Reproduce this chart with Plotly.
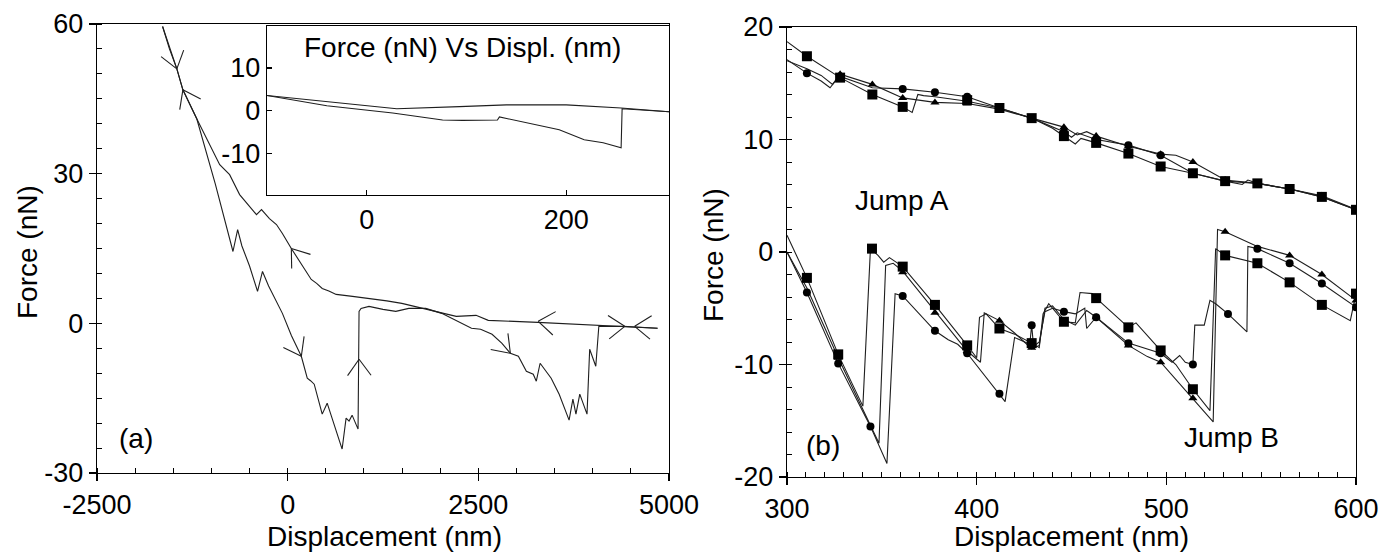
import math
import plotly.graph_objects as go

# ---------------- Panel (a): main force curve ----------------
a_approach_x = [-1640, -1550, -1453, -1374, -1192, -1050, -891, -761, -630, -520, -409, -343, -239, -147, -69, 48,
                244, 309, 380, 453, 540, 636, 850, 1066, 1300, 1497, 1700, 1940, 2100, 2210, 2470, 2630, 3280, 4070, 4850]
a_approach_f = [59.5, 55.0, 51.0, 46.8, 41.0, 36.5, 31.8, 29.8, 25.8, 23.8, 21.8, 22.8, 21.0, 19.8, 18.0, 15.0,
                10.4, 8.8, 8.0, 7.0, 6.5, 5.8, 5.4, 5.0, 4.5, 4.0, 3.3, 2.4, 1.8, 1.4, 1.6, 0.6, 0.2, -0.4, -1.0]

a_retract_x = [-1640, -1453, -1374, -1192, -950, -717, -656, -600, -500, -395, -330, -250, -69, 50, 179, 257, 300, 348,
               453, 518, 714, 766, 805, 845, 923, 936, 962, 1066, 1250, 1418, 1588, 1810, 2020, 2150, 2410, 2530,
               2680, 2810, 2920, 3025, 3130, 3220, 3260, 3310, 3455, 3560, 3690, 3740, 3780, 3830, 3925, 3960,
               4040, 4080, 4400, 4850]
a_retract_f = [59.5, 51.0, 46.8, 41.0, 28.0, 14.4, 18.8, 15.5, 11.5, 6.4, 10.4, 7.5, 2.0, -2.5, -6.6, -11.0, -11.5, -12.2,
               -18.2, -16.0, -25.2, -19.0, -19.6, -18.4, -21.2, 2.4, 3.0, 3.4, 2.8, 2.4, 3.0, 3.0, 2.0, 1.0, -1.0, -1.2,
               -2.2, -4.0, -6.0, -6.6, -9.6, -10.2, -11.6, -8.0, -11.0, -14.2, -19.4, -15.2, -18.2, -14.2, -18.2, -5.2,
               -8.6, -0.6, -0.6, -1.0]

# arrowheads on panel (a): tip x, tip force, pointing direction (screen degrees, 0 = right, 90 = down)
arrow_x = [-1453, -1374, 48, 179, 936, 3285, 2920, 4420, 4550]
arrow_f = [51.0, 46.8, 15.0, -6.6, -7.2, 0.4, -6.0, -0.6, -0.6]
arrow_dir = [74, -117, -127, 62, -91, 187, 47, -3, 184]

# inset
inset_upper_x = [-100, 30, 93, 140, 200, 255, 303]
inset_upper_f = [3.6, 0.5, 1.0, 1.4, 1.4, 0.7, -0.2]
inset_lower_x = [-100, -40, 26, 76, 96, 131, 133, 160, 193, 218, 237, 255, 256, 303]
inset_lower_f = [3.6, 1.2, -0.5, -2.1, -2.2, -2.1, -1.4, -2.8, -4.4, -6.7, -7.4, -8.6, 0.5, -0.2]

# ---------------- Panel (b): three runs, upper and lower branches ----------------
sq_top_x = [300, 310.5, 328, 345, 361, 366, 369, 372, 378, 395, 412, 429, 440, 446, 452, 455, 463, 480, 497, 514, 531, 548, 565, 582, 600]
sq_top_f = [18.7, 17.4, 15.5, 14.0, 12.9, 12.4, 14.0, 13.9, 13.8, 13.4, 12.8, 11.9, 11.0, 10.3, 9.6, 10.1, 9.7, 8.75, 7.6, 7.0, 6.3, 6.1, 5.6, 4.9, 3.75]
ci_top_x = [300, 310.5, 318, 322.7, 326, 328, 345, 361, 378, 395, 412, 429, 446, 450, 453, 463, 480, 497, 514, 531, 540, 543, 548, 565, 582, 600]
ci_top_f = [17.1, 15.9, 15.2, 14.6, 15.3, 15.6, 14.6, 14.5, 14.2, 13.8, 12.8, 11.9, 10.7, 10.2, 10.6, 10.0, 9.5, 8.6, 7.0, 6.3, 6.0, 6.4, 6.1, 5.6, 4.9, 3.75]
tr_top_x = [300, 310.5, 318, 324, 328, 345, 361, 378, 395, 412, 429, 446, 453, 458, 463, 480, 497, 505, 514, 531, 548, 565, 582, 600]
tr_top_f = [17.0, 16.3, 15.7, 14.9, 15.8, 14.9, 13.7, 13.3, 13.2, 12.7, 11.9, 11.1, 10.4, 10.7, 10.3, 9.4, 8.7, 8.6, 8.0, 6.4, 6.1, 5.6, 5.0, 3.8]

sq_bot_x = [300, 310.5, 327, 340, 344, 348, 351, 354, 361, 378, 395, 400, 401.5, 405, 412, 420, 429, 433, 435, 438, 446, 452,
            454.5, 461, 463, 480, 484, 497, 505, 514, 523, 526, 531, 548, 565, 582, 597, 600]
sq_bot_f = [1.5, -2.3, -9.1, -13.7, 0.3, -0.3, -0.9, -0.5, -1.3, -4.7, -8.3, -9.4, -5.8, -5.5, -6.8, -7.3, -8.1, -8.5, -5.5, -4.6, -6.2, -6.3,
            -3.6, -3.7, -4.1, -6.7, -6.3, -8.75, -10.0, -12.2, -14.1, 0.3, -0.3, -1.0, -2.7, -4.7, -6.1, -3.7]
tr_bot_x = [300, 310.5, 327, 348.5, 352, 356, 361, 378, 395, 402, 404, 412, 420, 429, 433, 436, 440, 446, 452, 458, 463, 480,
            490, 497, 514, 524.7, 527, 531, 548, 565, 582, 600]
tr_bot_f = [0.0, -3.2, -9.4, -17.0, -1.2, -1.0, -1.7, -5.3, -8.8, -9.8, -5.4, -6.1, -7.2, -8.6, -8.3, -5.0, -4.8, -6.0, -6.5, -5.2, -5.8, -8.3,
            -9.3, -9.8, -13.0, -15.1, 2.0, 1.8, 0.5, -0.3, -2.0, -4.3]
ci_bot_x = [300, 310.5, 327, 344, 352.7, 357, 361, 378, 385, 390, 395, 412, 415, 420, 425, 428, 429, 430, 433, 436, 440, 446, 452,
            457, 458, 463, 480, 497, 503, 507, 510, 514, 515, 520, 523, 526, 532.5, 542.5, 543, 548, 565, 582, 600]
ci_bot_f = [0.0, -3.6, -9.9, -15.5, -18.8, -3.7, -3.9, -7.0, -7.8, -8.2, -9.0, -12.6, -13.3, -7.6, -8.0, -8.2, -6.5, -8.4, -8.0, -5.3, -5.0, -5.3, -5.5,
            -5.0, -6.8, -5.8, -8.1, -9.0, -9.8, -9.2, -9.8, -10.0, -6.5, -6.5, -4.3, -4.6, -5.5, -7.1, 0.5, 0.3, -1.0, -2.8, -4.9]

# symbols
sq_mk_x = [310.5, 328, 345, 361, 395, 412, 429, 446, 463, 480, 497, 514, 531, 548, 565, 582, 600,
           310.5, 327, 344.8, 361, 378, 395, 412, 429, 446, 463, 480, 497, 514, 531, 548, 565, 582, 600]
sq_mk_f = [17.4, 15.5, 14.0, 12.9, 13.5, 12.8, 11.9, 10.3, 9.7, 8.75, 7.6, 7.0, 6.3, 6.1, 5.6, 4.9, 3.75,
           -2.3, -9.1, 0.3, -1.3, -4.7, -8.3, -6.8, -8.1, -6.2, -4.1, -6.7, -8.75, -12.2, -0.3, -1.0, -2.7, -4.7, -3.7]
ci_mk_x = [310.5, 328, 361, 378, 395, 412, 429, 446, 463, 480, 497, 514, 531, 548, 565, 582, 600,
           310.5, 327, 344, 361, 378, 395, 412, 429, 446, 463, 480, 497, 514, 532.5, 548, 565, 582, 600]
ci_mk_f = [15.9, 15.6, 14.5, 14.2, 13.8, 12.8, 11.9, 10.7, 10.0, 9.5, 8.6, 7.0, 6.3, 6.1, 5.6, 4.9, 3.75,
           -3.6, -9.9, -15.5, -3.9, -7.0, -9.0, -12.6, -6.5, -5.3, -5.8, -8.1, -9.0, -10.0, -5.5, 0.3, -1.0, -2.8, -4.9]
tr_mk_x = [328, 345, 361, 378, 395, 412, 429, 446, 463, 480, 497, 514, 531, 582, 600,
           327, 361, 378, 395, 412, 429, 463, 480, 497, 514, 531, 565, 582, 600]
tr_mk_f = [15.8, 14.9, 13.7, 13.3, 13.2, 12.7, 11.9, 11.1, 10.3, 9.4, 8.7, 8.0, 6.4, 5.0, 3.8,
           -9.4, -1.8, -5.4, -8.8, -6.1, -8.5, -5.8, -8.3, -9.8, -13.0, 1.8, -0.3, -2.0, -4.3]

# tick values and labels (hyphen minus as in the original)
a_xticks = [-2500, 0, 2500, 5000]
a_yticks = [-30, 0, 30, 60]
b_xticks = [300, 400, 500, 600]
b_yticks = [-20, -10, 0, 10, 20]
i_xticks = [0, 200]
i_yticks = [-10, 0, 10]

# ---------------- layout geometry ----------------
W, H = 1381, 554
ML, MR, MT, MB = 97, 25, 24, 77
PW, PH = W - ML - MR, H - MT - MB

def px_x(p):
    return (p - ML) / PW

def px_y(p):
    return (H - MB - p) / PH

A_XDOM = [0.0, px_x(669)]
A_YDOM = [px_y(473), 1.0]
B_XDOM = [px_x(787), 1.0]
B_YDOM = [0.0, px_y(27)]
I_XDOM = [px_x(267), px_x(669)]
I_YDOM = [px_y(195), px_y(26)]
A_XR, A_YR = [-2500, 5000], [-30, 60]
B_XR, B_YR = [300, 600], [-20, 20]
I_XR, I_YR = [-100, 303], [-19.6, 19.8]

FONT = "Liberation Sans, Arial, Helvetica, sans-serif"
INK = "#1e1e1e"
LW = 1.1

fig = go.Figure()

# panel (a)
fig.add_trace(go.Scatter(x=a_approach_x, y=a_approach_f, mode="lines", line=dict(color=INK, width=LW),
                         xaxis="x", yaxis="y", showlegend=False, hoverinfo="skip"))
fig.add_trace(go.Scatter(x=a_retract_x, y=a_retract_f, mode="lines", line=dict(color=INK, width=LW),
                         xaxis="x", yaxis="y", showlegend=False, hoverinfo="skip"))

# arrowheads as open chevrons
sx = (A_XDOM[1] - A_XDOM[0]) * PW / (A_XR[1] - A_XR[0])
sy = (A_YDOM[1] - A_YDOM[0]) * PH / (A_YR[1] - A_YR[0])
ARM, HALF = 20, 36
ax_pts, ay_pts = [], []
for x0, f0, d in zip(arrow_x, arrow_f, arrow_dir):
    back = d + 180
    for s in (-HALF, HALF):
        ang = math.radians(back + s)
        ax_pts += [x0, x0 + ARM * math.cos(ang) / sx, None]
        ay_pts += [f0, f0 - ARM * math.sin(ang) / sy, None]
fig.add_trace(go.Scatter(x=ax_pts, y=ay_pts, mode="lines", line=dict(color=INK, width=LW),
                         xaxis="x", yaxis="y", showlegend=False, hoverinfo="skip", connectgaps=False))

# inset
fig.add_trace(go.Scatter(x=inset_upper_x, y=inset_upper_f, mode="lines", line=dict(color=INK, width=LW),
                         xaxis="x3", yaxis="y3", showlegend=False, hoverinfo="skip"))
fig.add_trace(go.Scatter(x=inset_lower_x, y=inset_lower_f, mode="lines", line=dict(color=INK, width=LW),
                         xaxis="x3", yaxis="y3", showlegend=False, hoverinfo="skip"))

# panel (b) lines
for xs, fs in [(sq_top_x, sq_top_f), (ci_top_x, ci_top_f), (tr_top_x, tr_top_f),
               (sq_bot_x, sq_bot_f), (ci_bot_x, ci_bot_f), (tr_bot_x, tr_bot_f)]:
    fig.add_trace(go.Scatter(x=xs, y=fs, mode="lines", line=dict(color=INK, width=LW),
                             xaxis="x2", yaxis="y2", showlegend=False, hoverinfo="skip"))
# panel (b) symbols
for xs, fs, sym, sz in [(sq_mk_x, sq_mk_f, "square", 10), (ci_mk_x, ci_mk_f, "circle", 8),
                        (tr_mk_x, tr_mk_f, "triangle-up", 8)]:
    fig.add_trace(go.Scatter(x=xs, y=fs, mode="markers",
                             marker=dict(symbol=sym, size=sz, color="black", line=dict(width=0)),
                             xaxis="x2", yaxis="y2", showlegend=False, hoverinfo="skip"))

tickfont = dict(family=FONT, size=27, color="black")

def axis(domain, rng, anchor, tickvals, minor_dtick=None, ticklen=7, ticks="outside"):
    d = dict(domain=domain, range=rng, anchor=anchor, showline=True, linecolor="black", linewidth=1.3,
             mirror=True, showgrid=False, zeroline=False, ticks=ticks, ticklen=ticklen, tickwidth=1.1,
             tickcolor="black", tickfont=tickfont, fixedrange=True, automargin=False,
             tickmode="array", tickvals=tickvals, ticktext=[str(v) for v in tickvals])
    if minor_dtick is not None:
        d["minor"] = dict(ticks="inside", ticklen=5, tick0=rng[0], dtick=minor_dtick, tickwidth=1,
                          tickcolor="black", showgrid=False)
    return d

fig.update_layout(
    width=W, height=H,
    margin=dict(l=ML, r=MR, t=MT, b=MB, autoexpand=False),
    paper_bgcolor="white", plot_bgcolor="white",
    font=dict(family=FONT, size=27, color="black"),
    xaxis=axis(A_XDOM, A_XR, "y", a_xticks, 500),
    yaxis=axis(A_YDOM, A_YR, "x", a_yticks, 5),
    xaxis2=axis(B_XDOM, B_XR, "y2", b_xticks, 10),
    yaxis2=axis(B_YDOM, B_YR, "x2", b_yticks, 2),
    xaxis3=axis(I_XDOM, I_XR, "y3", i_xticks, None, ticklen=5, ticks="inside"),
    yaxis3=axis(I_YDOM, I_YR, "x3", i_yticks, None, ticklen=5, ticks="inside"),
)

# white backing for the inset
fig.add_shape(type="rect", xref="paper", yref="paper", x0=I_XDOM[0], x1=I_XDOM[1], y0=I_YDOM[0], y1=I_YDOM[1],
              fillcolor="white", line=dict(width=0), layer="below")

ann = []
txt = dict(family=FONT, size=28, color="black")
ann.append(dict(text="Force (nN)", xref="paper", yref="paper", x=px_x(27), y=px_y(252), textangle=-90,
                showarrow=False, font=txt, xanchor="center", yanchor="middle"))
ann.append(dict(text="Force (nN)", xref="paper", yref="paper", x=px_x(714), y=px_y(255), textangle=-90,
                showarrow=False, font=txt, xanchor="center", yanchor="middle"))
ann.append(dict(text="Displacement (nm)", xref="paper", yref="paper", x=px_x(384), y=px_y(536),
                showarrow=False, font=txt, xanchor="center", yanchor="middle"))
ann.append(dict(text="Displacement (nm)", xref="paper", yref="paper", x=px_x(1071), y=px_y(536),
                showarrow=False, font=txt, xanchor="center", yanchor="middle"))
ann.append(dict(text="(a)", xref="x", yref="y", x=-1984, y=-23.0, showarrow=False, font=txt))
ann.append(dict(text="(b)", xref="x2", yref="y2", x=319, y=-17.2, showarrow=False, font=txt))
ann.append(dict(text="Jump A", xref="x2", yref="y2", x=360.6, y=4.6, showarrow=False, font=txt))
ann.append(dict(text="Jump B", xref="x2", yref="y2", x=534.6, y=-16.5, showarrow=False, font=txt))
ann.append(dict(text="Force (nN) Vs Displ. (nm)", xref="x3", yref="y3", x=95.5, y=14.9, showarrow=False, font=txt))
fig.update_layout(annotations=ann)

# page without body margin so the 1381x554 figure fills the window exactly
fig.write_html("out.html", config={"displayModeBar": False, "staticPlot": True},
               post_script="document.body.style.margin='0';document.body.style.overflow='hidden';")
